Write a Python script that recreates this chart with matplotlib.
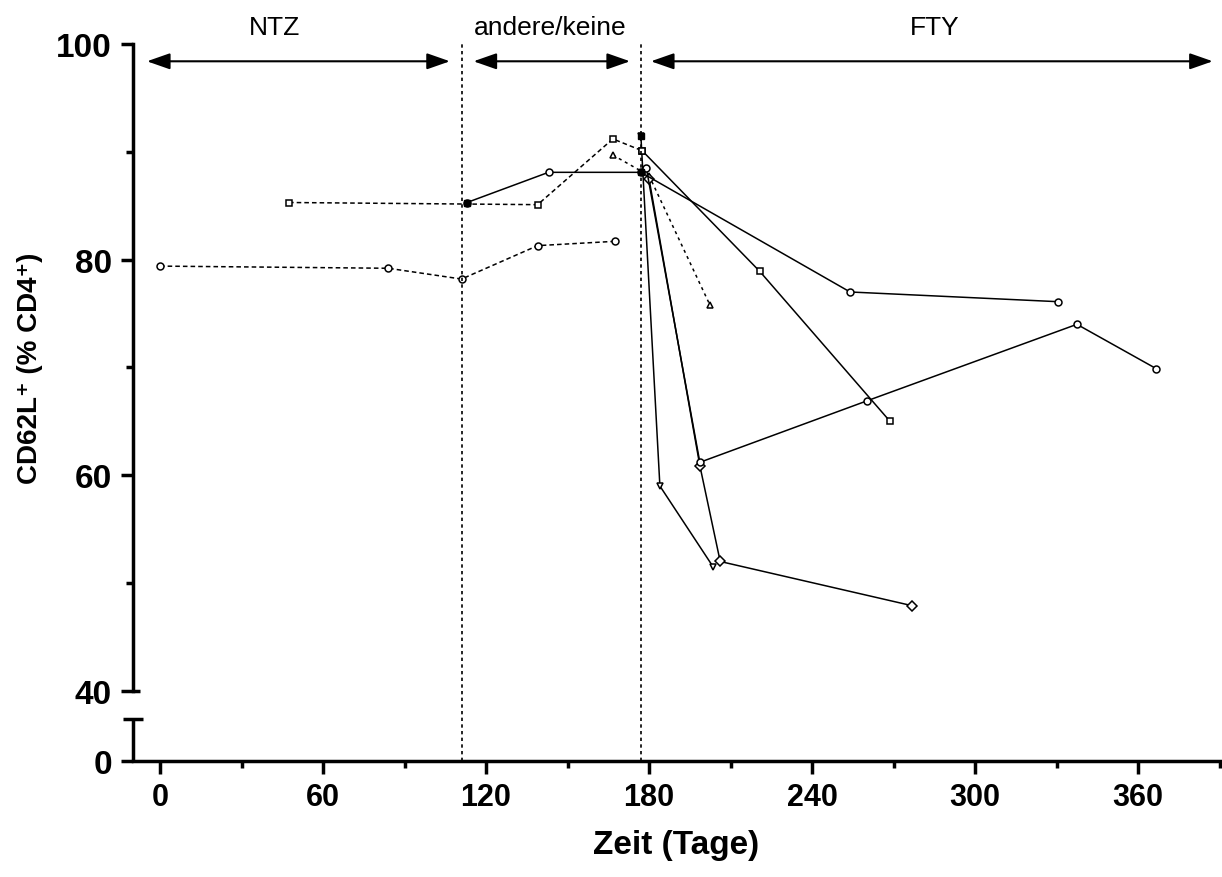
import numpy as np
import matplotlib
matplotlib.use("Agg")
import matplotlib.pyplot as plt

plt.rcParams['font.family'] = ['Liberation Sans', 'DejaVu Sans']

# Data (days, CD62L+ % of CD4+)
dashed_a_x = [0, 84, 111, 139, 167.5]
dashed_a_y = [79.4, 79.2, 78.2, 81.3, 81.7]

dashed_b_x = [47.5, 139, 166.7, 177.5]
dashed_b_y = [85.3, 85.1, 91.2, 90.1]

dashed_c_x = [166.7, 180, 202.4]
dashed_c_y = [89.7, 87.8, 75.8]

s1_x = [177, 184, 203.6]
s1_y = [91.5, 59.0, 51.5]

s2_x = [180, 198.7, 206.2, 276.8]
s2_y = [87.5, 60.9, 52.0, 47.9]

s3_x = [179, 198.7, 260.2, 337.5, 366.6]
s3_y = [88.5, 61.2, 66.9, 74.0, 69.9]

s4_x = [113, 143, 177, 254, 330.5]
s4_y = [85.3, 88.1, 88.1, 77.0, 76.1]

s5_x = [177.5, 220.8, 268.7]
s5_y = [90.1, 78.9, 65.0]

# therapy phases
phase_names = ['NTZ', 'andere/keine', 'FTY']
phase_text_x = [42, 143.5, 285]
phase_start = [-4.8, 115.4, 180.7]
phase_end = [106.7, 173, 387.5]
switch_days = [111, 177]

x_major = [0, 60, 120, 180, 240, 300, 360]
x_minor = [30, 90, 150, 210, 270, 330, 390]
y_major = [40, 60, 80, 100]
y_minor = [50, 70, 90]

# broken axis: position of the "0" below the break
zero_pos = 33.49
break_top = 37.4

fig = plt.figure(figsize=(12.22, 8.78), dpi=100)
ax = fig.add_axes([0.1087, 0.1321, 0.8893, 0.8166])

ax.set_xlim(-10, 390)
ax.set_ylim(zero_pos, 100)

dash = (0, (3, 2))
kw = dict(color='black', lw=1.1, mfc='white', mec='black', ms=5, mew=1.1, clip_on=False)
ax.plot(dashed_a_x, dashed_a_y, ls=dash, marker='o', **kw)
ax.plot(dashed_b_x, dashed_b_y, ls=dash, marker='s', **kw)
ax.plot(dashed_c_x, dashed_c_y, ls=(0, (2, 2.5)), marker='^', **kw)
ax.plot(s1_x, s1_y, ls='-', marker='v', **kw)
ax.plot(s2_x, s2_y, ls='-', marker='D', **kw)
ax.plot(s3_x, s3_y, ls='-', marker='o', **kw)
ax.plot(s4_x, s4_y, ls='-', marker='o', **kw)
ax.plot(s5_x, s5_y, ls='-', marker='s', **kw)

# filled markers in the cluster
ax.plot([s1_x[0], s4_x[0], s4_x[2]], [s1_y[0], s4_y[0], s4_y[2]], 's',
        color='black', ms=5, clip_on=False)

# phase boundaries
ax.vlines(switch_days, zero_pos, 100.3, colors='black', linestyles=(0, (2, 2)),
          lw=1.2, clip_on=False)

# phase arrows and labels
for name, tx, x0, x1 in zip(phase_names, phase_text_x, phase_start, phase_end):
    ax.annotate('', xy=(x1, 98.4), xytext=(x0, 98.4),
                arrowprops=dict(arrowstyle='<|-|>,head_length=1.0,head_width=0.35',
                                lw=1.5, color='black', shrinkA=0, shrinkB=0,
                                mutation_scale=14),
                annotation_clip=False)
    ax.text(tx, 101.6, name, ha='center', va='center', fontsize=19)

# axes styling (Prism look)
for side in ['top', 'right']:
    ax.spines[side].set_visible(False)
ax.spines['left'].set_linewidth(2.5)
ax.spines['bottom'].set_linewidth(2.5)
ax.spines['left'].set_bounds(40, 100)

ax.set_xticks(x_major)
ax.set_xticks(x_minor, minor=True)
ax.set_xticklabels([str(v) for v in x_major], fontsize=22, fontweight='bold')

ax.set_yticks([zero_pos] + y_major)
ax.set_yticklabels(['0'] + [str(v) for v in y_major], fontsize=24, fontweight='bold')
ax.set_yticks(y_minor, minor=True)

ax.tick_params(axis='both', which='major', direction='out', length=9, width=2.5, pad=6)
ax.tick_params(axis='both', which='minor', direction='out', length=5, width=2.5)

# lower segment of the broken y axis
yt = ax.get_yaxis_transform()
ax.plot([0, 0], [zero_pos, break_top], transform=yt, color='black', lw=2.5,
        solid_capstyle='butt', clip_on=False)
ax.plot([-0.009, 0.009], [break_top, break_top], transform=yt, color='black',
        lw=2.5, solid_capstyle='butt', clip_on=False)
ax.plot([0, 0.007], [40, 40], transform=yt, color='black', lw=2.5,
        solid_capstyle='butt', clip_on=False)

ax.set_xlabel('Zeit (Tage)', fontsize=24, fontweight='bold', labelpad=12)
ax.set_ylabel('CD62L\u207a (% CD4\u207a)', fontsize=20, fontweight='bold')
# centre the y label on the upper (40-100) segment
ax.yaxis.set_label_coords(-0.083, (70 - zero_pos) / (100 - zero_pos))

fig.savefig('out.png', dpi=100)
